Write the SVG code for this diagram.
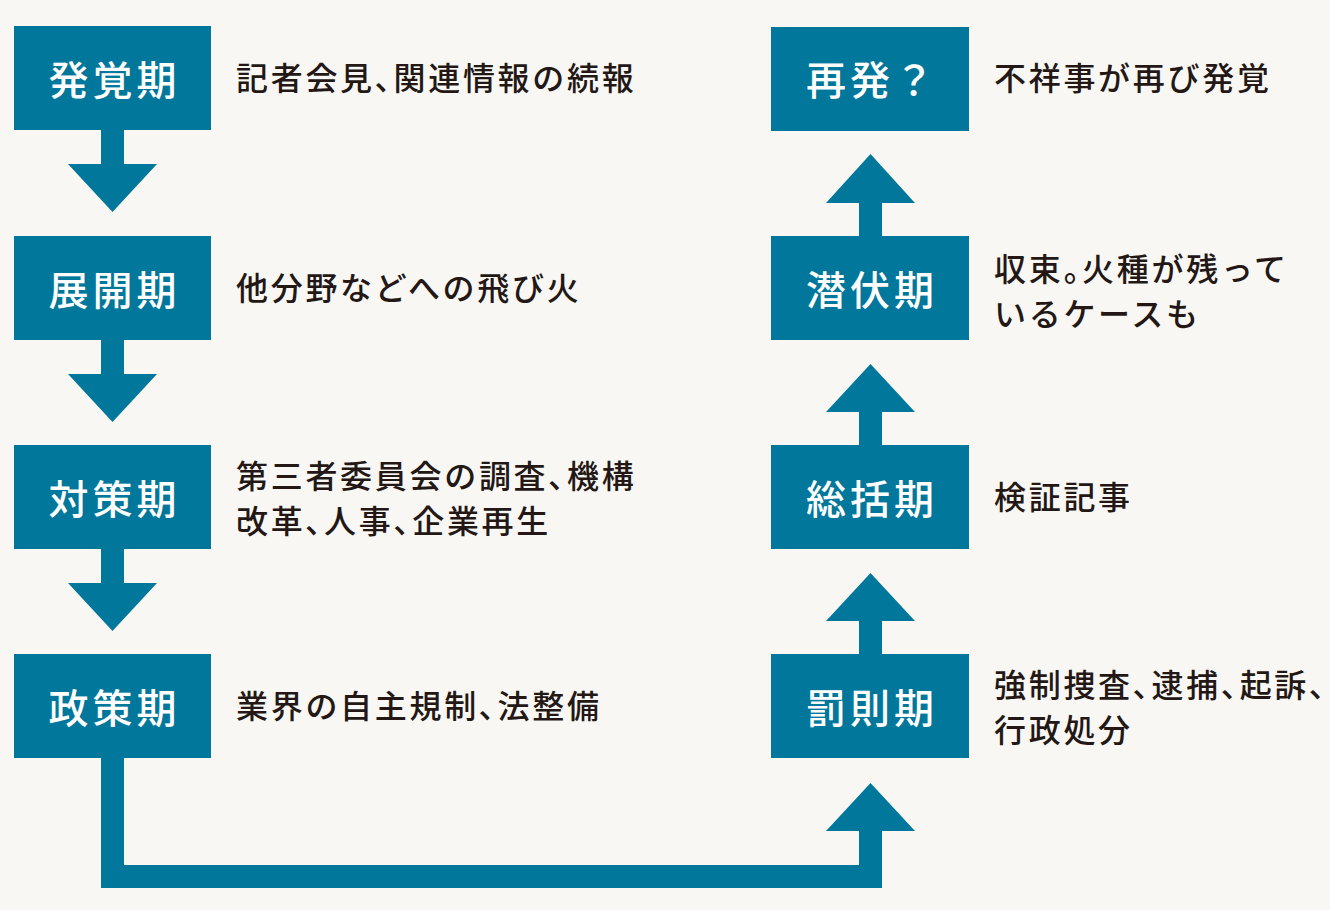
<svg xmlns="http://www.w3.org/2000/svg" width="1330" height="910" viewBox="0 0 1330 910">
<style>
.bg{fill:#f8f7f3}
.box{fill:#00779b}
.arr{fill:#00779b}
.lbl{font-family:"Noto Sans CJK JP","Noto Sans CJK SC",sans-serif;font-size:40px;font-weight:500;fill:#ffffff;text-anchor:middle;letter-spacing:4px}
.desc{font-family:"Noto Sans CJK JP","Noto Sans CJK SC",sans-serif;font-size:32px;font-weight:500;fill:#231815;letter-spacing:2.7px}
.p{font-feature-settings:"palt" 1}
</style>
<rect class="bg" x="0" y="0" width="1330" height="910"/>
<g id="connectors">
<polygon class="arr" points="101,130 124,130 124,164 157,164 112.5,212 68,164 101,164"/>
<polygon class="arr" points="101,340 124,340 124,374 157,374 112.5,422 68,374 101,374"/>
<polygon class="arr" points="101,549 124,549 124,583 157,583 112.5,631 68,583 101,583"/>
<polygon class="arr" points="859,236 882,236 882,203 915,203 870.5,154 826,203 859,203"/>
<polygon class="arr" points="859,445 882,445 882,412 915,412 870.5,364 826,412 859,412"/>
<polygon class="arr" points="859,654 882,654 882,621 915,621 870.5,573 826,621 859,621"/>
<polygon class="arr" points="101,758 124,758 124,865 859,865 859,831 826,831 870.5,783 915,831 882,831 882,888 101,888"/>
</g>
<g id="node-hakkaku">
<rect class="box" x="14" y="26" width="197" height="104"/>
<text class="lbl" x="114.5" y="95">発覚期</text>
<text class="desc" x="236" y="90">記者会見<tspan class="p">、</tspan>関連情報の続報</text>
</g>
<g id="node-tenkai">
<rect class="box" x="14" y="236" width="197" height="104"/>
<text class="lbl" x="114.5" y="305">展開期</text>
<text class="desc" x="236" y="300">他分野などへの飛び火</text>
</g>
<g id="node-taisaku">
<rect class="box" x="14" y="445" width="197" height="104"/>
<text class="lbl" x="114.5" y="514">対策期</text>
<text class="desc" x="236" y="488">第三者委員会の調査<tspan class="p">、</tspan>機構</text>
<text class="desc" x="236" y="533">改革<tspan class="p">、</tspan>人事<tspan class="p">、</tspan>企業再生</text>
</g>
<g id="node-seisaku">
<rect class="box" x="14" y="654" width="197" height="104"/>
<text class="lbl" x="114.5" y="723">政策期</text>
<text class="desc" x="236" y="718">業界の自主規制<tspan class="p">、</tspan>法整備</text>
</g>
<g id="node-bassoku">
<rect class="box" x="771" y="654" width="198" height="104"/>
<text class="lbl" x="872" y="723">罰則期</text>
<text class="desc" x="994" y="697">強制捜査<tspan class="p">、</tspan>逮捕<tspan class="p">、</tspan>起訴<tspan class="p">、</tspan></text>
<text class="desc" x="994" y="742">行政処分</text>
</g>
<g id="node-soukatsu">
<rect class="box" x="771" y="445" width="198" height="104"/>
<text class="lbl" x="872" y="514">総括期</text>
<text class="desc" x="994" y="509">検証記事</text>
</g>
<g id="node-senpuku">
<rect class="box" x="771" y="236" width="198" height="104"/>
<text class="lbl" x="872" y="305">潜伏期</text>
<text class="desc" x="994" y="281">収束<tspan class="p">。</tspan>火種が残って</text>
<text class="desc" x="994" y="326">いるケースも</text>
</g>
<g id="node-saihatsu">
<rect class="box" x="771" y="27" width="198" height="104"/>
<text class="lbl" x="872" y="95">再発？</text>
<text class="desc" x="994" y="90">不祥事が再び発覚</text>
</g>
</svg>
